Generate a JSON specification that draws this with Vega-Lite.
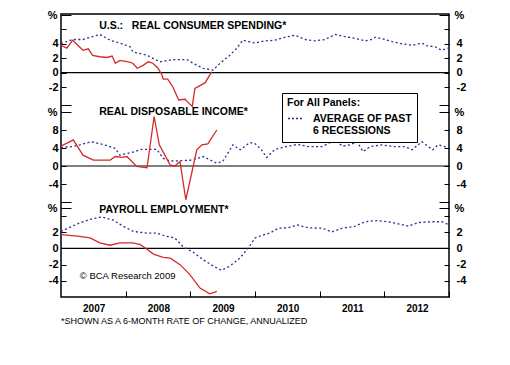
{
  "$schema": "https://vega.github.io/schema/vega-lite/v6.json",
  "width": 388,
  "height": 283,
  "autosize": "none",
  "padding": {"left": 61, "top": 14, "right": 61, "bottom": 68},
  "background": "white",
  "config": {
    "view": {"stroke": "black", "strokeWidth": 1.5},
    "font": "Liberation Sans",
    "axis": {"domain": false, "grid": false, "labelFont": "Liberation Sans", "labelFontSize": 11, "labelFontWeight": "bold", "labelColor": "black", "tickColor": "black", "tickWidth": 1, "labelBound": false, "labelOverlap": false, "labelFlush": false}
  },
  "title": {"text": "*SHOWN AS A 6-MONTH RATE OF CHANGE, ANNUALIZED", "orient": "bottom", "anchor": "start", "frame": "group", "fontSize": 9, "fontWeight": "normal", "font": "Liberation Sans", "color": "black", "offset": 4},
  "datasets": {
    "d": [
      {"p":1,"s":"u","t":2007.00,"v":3.8},{"p":1,"s":"u","t":2007.09,"v":3.4},{"p":1,"s":"u","t":2007.18,"v":4.5},{"p":1,"s":"u","t":2007.26,"v":3.8},{"p":1,"s":"u","t":2007.34,"v":3.1},{"p":1,"s":"u","t":2007.42,"v":3.3},{"p":1,"s":"u","t":2007.49,"v":2.4},{"p":1,"s":"u","t":2007.60,"v":2.2},{"p":1,"s":"u","t":2007.71,"v":2.1},{"p":1,"s":"u","t":2007.79,"v":2.3},{"p":1,"s":"u","t":2007.84,"v":1.3},{"p":1,"s":"u","t":2007.91,"v":1.7},{"p":1,"s":"u","t":2008.04,"v":1.5},{"p":1,"s":"u","t":2008.11,"v":1.3},{"p":1,"s":"u","t":2008.18,"v":0.6},{"p":1,"s":"u","t":2008.27,"v":1.0},{"p":1,"s":"u","t":2008.35,"v":1.5},{"p":1,"s":"u","t":2008.42,"v":1.3},{"p":1,"s":"u","t":2008.50,"v":0.6},{"p":1,"s":"u","t":2008.56,"v":-0.3},{"p":1,"s":"u","t":2008.58,"v":-0.9},{"p":1,"s":"u","t":2008.65,"v":-0.9},{"p":1,"s":"u","t":2008.73,"v":-2.0},{"p":1,"s":"u","t":2008.82,"v":-3.8},{"p":1,"s":"u","t":2008.92,"v":-3.7},{"p":1,"s":"u","t":2008.95,"v":-4.0},{"p":1,"s":"u","t":2009.03,"v":-4.7},{"p":1,"s":"u","t":2009.07,"v":-2.2},{"p":1,"s":"u","t":2009.15,"v":-1.8},{"p":1,"s":"u","t":2009.23,"v":-1.4},{"p":1,"s":"u","t":2009.29,"v":-0.5},{"p":1,"s":"u","t":2009.33,"v":0.1},
      {"p":1,"s":"a","t":2007.00,"v":4.05},{"p":1,"s":"a","t":2007.18,"v":4.6},{"p":1,"s":"a","t":2007.34,"v":4.6},{"p":1,"s":"a","t":2007.60,"v":5.3},{"p":1,"s":"a","t":2007.76,"v":4.5},{"p":1,"s":"a","t":2007.91,"v":4.1},{"p":1,"s":"a","t":2008.07,"v":3.6},{"p":1,"s":"a","t":2008.11,"v":2.9},{"p":1,"s":"a","t":2008.33,"v":2.4},{"p":1,"s":"a","t":2008.53,"v":1.5},{"p":1,"s":"a","t":2008.73,"v":1.8},{"p":1,"s":"a","t":2008.95,"v":1.8},{"p":1,"s":"a","t":2009.04,"v":1.3},{"p":1,"s":"a","t":2009.20,"v":0.6},{"p":1,"s":"a","t":2009.35,"v":0.35},{"p":1,"s":"a","t":2009.46,"v":1.3},{"p":1,"s":"a","t":2009.61,"v":2.4},{"p":1,"s":"a","t":2009.72,"v":3.4},{"p":1,"s":"a","t":2009.81,"v":4.5},{"p":1,"s":"a","t":2010.00,"v":4.1},{"p":1,"s":"a","t":2010.15,"v":4.4},{"p":1,"s":"a","t":2010.31,"v":4.5},{"p":1,"s":"a","t":2010.46,"v":4.9},{"p":1,"s":"a","t":2010.62,"v":5.2},{"p":1,"s":"a","t":2010.77,"v":4.6},{"p":1,"s":"a","t":2010.93,"v":4.4},{"p":1,"s":"a","t":2011.08,"v":4.6},{"p":1,"s":"a","t":2011.24,"v":5.3},{"p":1,"s":"a","t":2011.39,"v":5.0},{"p":1,"s":"a","t":2011.55,"v":4.75},{"p":1,"s":"a","t":2011.70,"v":4.4},{"p":1,"s":"a","t":2011.81,"v":4.6},{"p":1,"s":"a","t":2011.86,"v":4.9},{"p":1,"s":"a","t":2012.01,"v":4.6},{"p":1,"s":"a","t":2012.12,"v":4.3},{"p":1,"s":"a","t":2012.27,"v":4.0},{"p":1,"s":"a","t":2012.43,"v":3.8},{"p":1,"s":"a","t":2012.58,"v":4.1},{"p":1,"s":"a","t":2012.67,"v":3.7},{"p":1,"s":"a","t":2012.78,"v":3.6},{"p":1,"s":"a","t":2012.89,"v":3.1},{"p":1,"s":"a","t":2012.98,"v":3.4},
      {"p":2,"s":"u","t":2007.00,"v":4.4},{"p":2,"s":"u","t":2007.19,"v":5.8},{"p":2,"s":"u","t":2007.34,"v":2.4},{"p":2,"s":"u","t":2007.50,"v":1.3},{"p":2,"s":"u","t":2007.60,"v":1.3},{"p":2,"s":"u","t":2007.76,"v":1.3},{"p":2,"s":"u","t":2007.84,"v":2.1},{"p":2,"s":"u","t":2007.94,"v":1.9},{"p":2,"s":"u","t":2008.02,"v":2.1},{"p":2,"s":"u","t":2008.17,"v":-0.1},{"p":2,"s":"u","t":2008.33,"v":-0.4},{"p":2,"s":"u","t":2008.44,"v":11.0},{"p":2,"s":"u","t":2008.52,"v":4.7},{"p":2,"s":"u","t":2008.69,"v":0.2},{"p":2,"s":"u","t":2008.76,"v":0.0},{"p":2,"s":"u","t":2008.84,"v":1.0},{"p":2,"s":"u","t":2008.93,"v":-7.5},{"p":2,"s":"u","t":2009.10,"v":3.6},{"p":2,"s":"u","t":2009.18,"v":4.7},{"p":2,"s":"u","t":2009.27,"v":4.9},{"p":2,"s":"u","t":2009.41,"v":8.0},
      {"p":2,"s":"a","t":2007.00,"v":4.1},{"p":2,"s":"a","t":2007.17,"v":4.3},{"p":2,"s":"a","t":2007.29,"v":4.7},{"p":2,"s":"a","t":2007.47,"v":5.4},{"p":2,"s":"a","t":2007.65,"v":4.8},{"p":2,"s":"a","t":2007.84,"v":3.9},{"p":2,"s":"a","t":2007.91,"v":2.4},{"p":2,"s":"a","t":2008.09,"v":3.0},{"p":2,"s":"a","t":2008.25,"v":3.7},{"p":2,"s":"a","t":2008.48,"v":3.7},{"p":2,"s":"a","t":2008.58,"v":1.7},{"p":2,"s":"a","t":2008.69,"v":1.1},{"p":2,"s":"a","t":2008.89,"v":1.2},{"p":2,"s":"a","t":2009.02,"v":1.3},{"p":2,"s":"a","t":2009.20,"v":2.1},{"p":2,"s":"a","t":2009.41,"v":0.6},{"p":2,"s":"a","t":2009.50,"v":1.0},{"p":2,"s":"a","t":2009.66,"v":4.7},{"p":2,"s":"a","t":2009.77,"v":3.6},{"p":2,"s":"a","t":2009.92,"v":5.2},{"p":2,"s":"a","t":2010.00,"v":5.0},{"p":2,"s":"a","t":2010.10,"v":3.6},{"p":2,"s":"a","t":2010.18,"v":1.9},{"p":2,"s":"a","t":2010.31,"v":3.7},{"p":2,"s":"a","t":2010.51,"v":4.4},{"p":2,"s":"a","t":2010.66,"v":4.8},{"p":2,"s":"a","t":2010.82,"v":4.3},{"p":2,"s":"a","t":2011.04,"v":4.3},{"p":2,"s":"a","t":2011.24,"v":5.8},{"p":2,"s":"a","t":2011.35,"v":4.4},{"p":2,"s":"a","t":2011.47,"v":4.7},{"p":2,"s":"a","t":2011.58,"v":5.4},{"p":2,"s":"a","t":2011.67,"v":3.2},{"p":2,"s":"a","t":2011.78,"v":4.3},{"p":2,"s":"a","t":2011.96,"v":4.7},{"p":2,"s":"a","t":2012.16,"v":4.3},{"p":2,"s":"a","t":2012.32,"v":4.3},{"p":2,"s":"a","t":2012.43,"v":3.6},{"p":2,"s":"a","t":2012.58,"v":5.4},{"p":2,"s":"a","t":2012.67,"v":4.4},{"p":2,"s":"a","t":2012.75,"v":3.6},{"p":2,"s":"a","t":2012.83,"v":4.7},{"p":2,"s":"a","t":2012.97,"v":4.2},
      {"p":3,"s":"u","t":2007.00,"v":1.7},{"p":3,"s":"u","t":2007.29,"v":1.5},{"p":3,"s":"u","t":2007.45,"v":1.3},{"p":3,"s":"u","t":2007.60,"v":0.7},{"p":3,"s":"u","t":2007.76,"v":0.4},{"p":3,"s":"u","t":2007.91,"v":0.7},{"p":3,"s":"u","t":2008.11,"v":0.7},{"p":3,"s":"u","t":2008.22,"v":0.5},{"p":3,"s":"u","t":2008.33,"v":-0.1},{"p":3,"s":"u","t":2008.43,"v":-0.7},{"p":3,"s":"u","t":2008.58,"v":-1.1},{"p":3,"s":"u","t":2008.69,"v":-1.2},{"p":3,"s":"u","t":2008.84,"v":-2.0},{"p":3,"s":"u","t":2008.99,"v":-3.2},{"p":3,"s":"u","t":2009.15,"v":-4.9},{"p":3,"s":"u","t":2009.30,"v":-5.6},{"p":3,"s":"u","t":2009.41,"v":-5.3},
      {"p":3,"s":"a","t":2007.00,"v":2.1},{"p":3,"s":"a","t":2007.24,"v":3.0},{"p":3,"s":"a","t":2007.45,"v":3.6},{"p":3,"s":"a","t":2007.63,"v":3.9},{"p":3,"s":"a","t":2007.81,"v":3.5},{"p":3,"s":"a","t":2007.96,"v":2.75},{"p":3,"s":"a","t":2008.12,"v":2.1},{"p":3,"s":"a","t":2008.33,"v":1.9},{"p":3,"s":"a","t":2008.48,"v":1.9},{"p":3,"s":"a","t":2008.63,"v":1.5},{"p":3,"s":"a","t":2008.76,"v":1.3},{"p":3,"s":"a","t":2008.89,"v":0.2},{"p":3,"s":"a","t":2009.05,"v":-0.5},{"p":3,"s":"a","t":2009.20,"v":-1.4},{"p":3,"s":"a","t":2009.36,"v":-2.2},{"p":3,"s":"a","t":2009.48,"v":-2.7},{"p":3,"s":"a","t":2009.61,"v":-2.2},{"p":3,"s":"a","t":2009.77,"v":-1.15},{"p":3,"s":"a","t":2009.90,"v":0.1},{"p":3,"s":"a","t":2010.00,"v":1.3},{"p":3,"s":"a","t":2010.10,"v":1.6},{"p":3,"s":"a","t":2010.23,"v":1.9},{"p":3,"s":"a","t":2010.36,"v":2.5},{"p":3,"s":"a","t":2010.51,"v":2.55},{"p":3,"s":"a","t":2010.66,"v":2.9},{"p":3,"s":"a","t":2010.82,"v":2.55},{"p":3,"s":"a","t":2011.04,"v":2.5},{"p":3,"s":"a","t":2011.19,"v":2.05},{"p":3,"s":"a","t":2011.35,"v":2.5},{"p":3,"s":"a","t":2011.55,"v":2.75},{"p":3,"s":"a","t":2011.70,"v":3.3},{"p":3,"s":"a","t":2011.86,"v":3.45},{"p":3,"s":"a","t":2012.06,"v":3.3},{"p":3,"s":"a","t":2012.21,"v":3.05},{"p":3,"s":"a","t":2012.37,"v":2.75},{"p":3,"s":"a","t":2012.52,"v":3.2},{"p":3,"s":"a","t":2012.74,"v":3.3},{"p":3,"s":"a","t":2012.89,"v":3.3},{"p":3,"s":"a","t":2012.98,"v":3.0}
    ],
    "labels": [
      {"p":1,"t":2007.59,"v":6.5,"txt":"U.S.:\u00a0\u00a0\u00a0REAL CONSUMER SPENDING*"},
      {"p":2,"t":2007.59,"v":12.1,"txt":"REAL DISPOSABLE INCOME*"},
      {"p":3,"t":2007.59,"v":4.7,"txt":"PAYROLL EMPLOYMENT*"}
    ],
    "credit": [{"t":2007.29,"v":-3.36,"txt":"© BCA Research 2009"}],
    "zero": [{"v":0}]
  },
  "layer": [
    {
      "data": {"name": "zero"},
      "mark": {"type": "rule", "color": "black", "strokeWidth": 1.2},
      "encoding": {"y": {"field": "v", "type": "quantitative", "scale": {"domain": [-4.5, 8], "range": [91, 1]},
        "axis": {"orient": "right", "title": null, "values": [-4.5, -2, 0, 2, 4, 6, 8],
          "tickSize": {"condition": {"test": "datum.value == 8 || datum.value == -4.5", "value": -10}, "value": -5},
          "labelPadding": {"condition": {"test": "datum.value == 8", "value": 15}, "value": 12},
          "labelExpr": "datum.value == 8 ? '%' : (datum.value == 6 || datum.value == -4.5) ? '' : '' + datum.value"}}}
    },
    {
      "data": {"name": "d"},
      "transform": [{"filter": "datum.p == 1 && datum.s == 'a'"}],
      "mark": {"type": "line", "strokeWidth": 1.3, "strokeDash": [2, 2.5]},
      "encoding": {
        "x": {"field": "t", "type": "quantitative", "scale": {"domain": [2007, 2013], "nice": false, "zero": false},
          "axis": {"title": null, "values": [2008, 2009, 2010, 2011, 2012, 2013], "tickSize": -6, "labelExpr": "'' + (datum.value - 1)", "labelOffset": -32, "labelFontSize": 10, "labelPadding": 12}},
        "y": {"field": "v", "type": "quantitative", "scale": {"domain": [-4.5, 8], "range": [91, 1]},
          "axis": {"orient": "left", "title": null, "values": [-4.5, -2, 0, 2, 4, 6, 8],
            "tickSize": {"condition": {"test": "datum.value == 8 || datum.value == -4.5", "value": -10}, "value": -5},
            "labelPadding": {"condition": {"test": "datum.value == 8", "value": 14}, "value": 8},
            "labelExpr": "datum.value == 8 ? '%' : (datum.value == 6 || datum.value == -4.5) ? '' : '' + datum.value"}},
        "color": {"datum": "avg", "scale": {"range": ["#2b2b95"]},
          "legend": {"orient": "none", "legendX": 221, "legendY": 79, "title": "For All Panels:", "titleFont": "Liberation Sans", "titleFontSize": 10.5, "titleFontWeight": "bold", "titleColor": "black", "titlePadding": 2,
            "labelExpr": "['AVERAGE OF PAST', '6 RECESSIONS']", "labelFont": "Liberation Sans", "labelFontSize": 10.5, "labelFontWeight": "bold", "labelColor": "black", "labelOffset": 10,
            "symbolType": "stroke", "symbolSize": 196, "symbolStrokeWidth": 1.5, "symbolDash": [2, 2],
            "fillColor": "white", "strokeColor": "black", "padding": 5}}
      }
    },
    {
      "data": {"name": "d"},
      "transform": [{"filter": "datum.p == 1 && datum.s == 'u'"}],
      "mark": {"type": "line", "strokeWidth": 1.3, "color": "#d42a2a"},
      "encoding": {
        "x": {"field": "t", "type": "quantitative", "scale": {"domain": [2007, 2013], "nice": false, "zero": false},
          "axis": {"title": null, "values": [2008, 2009, 2010, 2011, 2012, 2013], "tickSize": -6, "labelExpr": "'' + (datum.value - 1)", "labelOffset": -32, "labelFontSize": 10, "labelPadding": 12}},
        "y": {"field": "v", "type": "quantitative", "scale": {"domain": [-4.5, 8], "range": [91, 1]}, "axis": null}
      }
    },
    {
      "data": {"name": "zero"},
      "mark": {"type": "rule", "color": "black", "strokeWidth": 1.2},
      "encoding": {"y": {"field": "v", "type": "quantitative", "scale": {"domain": [-8, 12], "range": [188, 98]},
        "axis": {"orient": "right", "title": null, "values": [-8, -4, 0, 4, 8, 12],
          "tickSize": {"condition": {"test": "datum.value == 12 || datum.value == -8", "value": -10}, "value": -5},
          "labelPadding": {"condition": {"test": "datum.value == 12", "value": 15}, "value": 12},
          "labelExpr": "datum.value == 12 ? '%' : datum.value == -8 ? '' : '' + datum.value"}}}
    },
    {
      "data": {"name": "d"},
      "transform": [{"filter": "datum.p == 2 && datum.s == 'a'"}],
      "mark": {"type": "line", "strokeWidth": 1.3, "strokeDash": [2, 2.5], "color": "#2b2b95"},
      "encoding": {
        "x": {"field": "t", "type": "quantitative", "scale": {"domain": [2007, 2013], "nice": false, "zero": false},
          "axis": {"title": null, "values": [2008, 2009, 2010, 2011, 2012, 2013], "tickSize": -6, "labelExpr": "'' + (datum.value - 1)", "labelOffset": -32, "labelFontSize": 10, "labelPadding": 12}},
        "y": {"field": "v", "type": "quantitative", "scale": {"domain": [-8, 12], "range": [188, 98]},
          "axis": {"orient": "left", "title": null, "values": [-8, -4, 0, 4, 8, 12],
            "tickSize": {"condition": {"test": "datum.value == 12 || datum.value == -8", "value": -10}, "value": -5},
            "labelPadding": {"condition": {"test": "datum.value == 12", "value": 14}, "value": 8},
            "labelExpr": "datum.value == 12 ? '%' : datum.value == -8 ? '' : '' + datum.value"}}
      }
    },
    {
      "data": {"name": "d"},
      "transform": [{"filter": "datum.p == 2 && datum.s == 'u'"}],
      "mark": {"type": "line", "strokeWidth": 1.3, "color": "#d42a2a"},
      "encoding": {
        "x": {"field": "t", "type": "quantitative", "scale": {"domain": [2007, 2013], "nice": false, "zero": false},
          "axis": {"title": null, "values": [2008, 2009, 2010, 2011, 2012, 2013], "tickSize": -6, "labelExpr": "'' + (datum.value - 1)", "labelOffset": -32, "labelFontSize": 10, "labelPadding": 12}},
        "y": {"field": "v", "type": "quantitative", "scale": {"domain": [-8, 12], "range": [188, 98]}, "axis": null}
      }
    },
    {
      "data": {"name": "zero"},
      "mark": {"type": "rule", "color": "black", "strokeWidth": 1.2},
      "encoding": {"y": {"field": "v", "type": "quantitative", "scale": {"domain": [-6, 5], "range": [283, 194]},
        "axis": {"orient": "right", "title": null, "values": [-4, -2, 0, 2, 4, 5],
          "tickSize": {"condition": {"test": "datum.value == 5", "value": -10}, "value": -5},
          "labelPadding": {"condition": {"test": "datum.value == 5", "value": 15}, "value": 12},
          "labelExpr": "datum.value == 5 ? '%' : datum.value == 4 ? '' : '' + datum.value"}}}
    },
    {
      "data": {"name": "d"},
      "transform": [{"filter": "datum.p == 3 && datum.s == 'a'"}],
      "mark": {"type": "line", "strokeWidth": 1.3, "strokeDash": [2, 2.5], "color": "#2b2b95"},
      "encoding": {
        "x": {"field": "t", "type": "quantitative", "scale": {"domain": [2007, 2013], "nice": false, "zero": false},
          "axis": {"title": null, "values": [2008, 2009, 2010, 2011, 2012, 2013], "tickSize": -6, "labelExpr": "'' + (datum.value - 1)", "labelOffset": -32, "labelFontSize": 10, "labelPadding": 12}},
        "y": {"field": "v", "type": "quantitative", "scale": {"domain": [-6, 5], "range": [283, 194]},
          "axis": {"orient": "left", "title": null, "values": [-4, -2, 0, 2, 4, 5],
            "tickSize": {"condition": {"test": "datum.value == 5", "value": -10}, "value": -5},
            "labelPadding": {"condition": {"test": "datum.value == 5", "value": 14}, "value": 8},
            "labelExpr": "datum.value == 5 ? '%' : datum.value == 4 ? '' : '' + datum.value"}}
      }
    },
    {
      "data": {"name": "d"},
      "transform": [{"filter": "datum.p == 3 && datum.s == 'u'"}],
      "mark": {"type": "line", "strokeWidth": 1.3, "color": "#d42a2a"},
      "encoding": {
        "x": {"field": "t", "type": "quantitative", "scale": {"domain": [2007, 2013], "nice": false, "zero": false},
          "axis": {"title": null, "values": [2008, 2009, 2010, 2011, 2012, 2013], "tickSize": -6, "labelExpr": "'' + (datum.value - 1)", "labelOffset": -32, "labelFontSize": 10, "labelPadding": 12}},
        "y": {"field": "v", "type": "quantitative", "scale": {"domain": [-6, 5], "range": [283, 194]}, "axis": null}
      }
    },
    {
      "data": {"name": "labels"},
      "transform": [{"filter": "datum.p == 1"}],
      "mark": {"type": "text", "align": "left", "baseline": "middle", "font": "Liberation Sans", "fontSize": 10.5, "fontWeight": "bold", "color": "black"},
      "encoding": {
        "x": {"field": "t", "type": "quantitative", "scale": {"domain": [2007, 2013], "nice": false, "zero": false},
          "axis": {"title": null, "values": [2008, 2009, 2010, 2011, 2012, 2013], "tickSize": -6, "labelExpr": "'' + (datum.value - 1)", "labelOffset": -32, "labelFontSize": 10, "labelPadding": 12}},
        "y": {"field": "v", "type": "quantitative", "scale": {"domain": [-4.5, 8], "range": [91, 1]}, "axis": null},
        "text": {"field": "txt"}
      }
    },
    {
      "data": {"name": "labels"},
      "transform": [{"filter": "datum.p == 2"}],
      "mark": {"type": "text", "align": "left", "baseline": "middle", "font": "Liberation Sans", "fontSize": 10.5, "fontWeight": "bold", "color": "black"},
      "encoding": {
        "x": {"field": "t", "type": "quantitative", "scale": {"domain": [2007, 2013], "nice": false, "zero": false},
          "axis": {"title": null, "values": [2008, 2009, 2010, 2011, 2012, 2013], "tickSize": -6, "labelExpr": "'' + (datum.value - 1)", "labelOffset": -32, "labelFontSize": 10, "labelPadding": 12}},
        "y": {"field": "v", "type": "quantitative", "scale": {"domain": [-8, 12], "range": [188, 98]}, "axis": null},
        "text": {"field": "txt"}
      }
    },
    {
      "data": {"name": "labels"},
      "transform": [{"filter": "datum.p == 3"}],
      "mark": {"type": "text", "align": "left", "baseline": "middle", "font": "Liberation Sans", "fontSize": 10.5, "fontWeight": "bold", "color": "black"},
      "encoding": {
        "x": {"field": "t", "type": "quantitative", "scale": {"domain": [2007, 2013], "nice": false, "zero": false},
          "axis": {"title": null, "values": [2008, 2009, 2010, 2011, 2012, 2013], "tickSize": -6, "labelExpr": "'' + (datum.value - 1)", "labelOffset": -32, "labelFontSize": 10, "labelPadding": 12}},
        "y": {"field": "v", "type": "quantitative", "scale": {"domain": [-6, 5], "range": [283, 194]}, "axis": null},
        "text": {"field": "txt"}
      }
    },
    {
      "data": {"name": "credit"},
      "mark": {"type": "text", "align": "left", "baseline": "middle", "font": "Liberation Sans", "fontSize": 9.5, "color": "black"},
      "encoding": {
        "x": {"field": "t", "type": "quantitative", "scale": {"domain": [2007, 2013], "nice": false, "zero": false},
          "axis": {"title": null, "values": [2008, 2009, 2010, 2011, 2012, 2013], "tickSize": -6, "labelExpr": "'' + (datum.value - 1)", "labelOffset": -32, "labelFontSize": 10, "labelPadding": 12}},
        "y": {"field": "v", "type": "quantitative", "scale": {"domain": [-6, 5], "range": [283, 194]}, "axis": null},
        "text": {"field": "txt"}
      }
    }
  ],
  "resolve": {"scale": {"y": "independent"}, "axis": {"y": "independent"}}
}
